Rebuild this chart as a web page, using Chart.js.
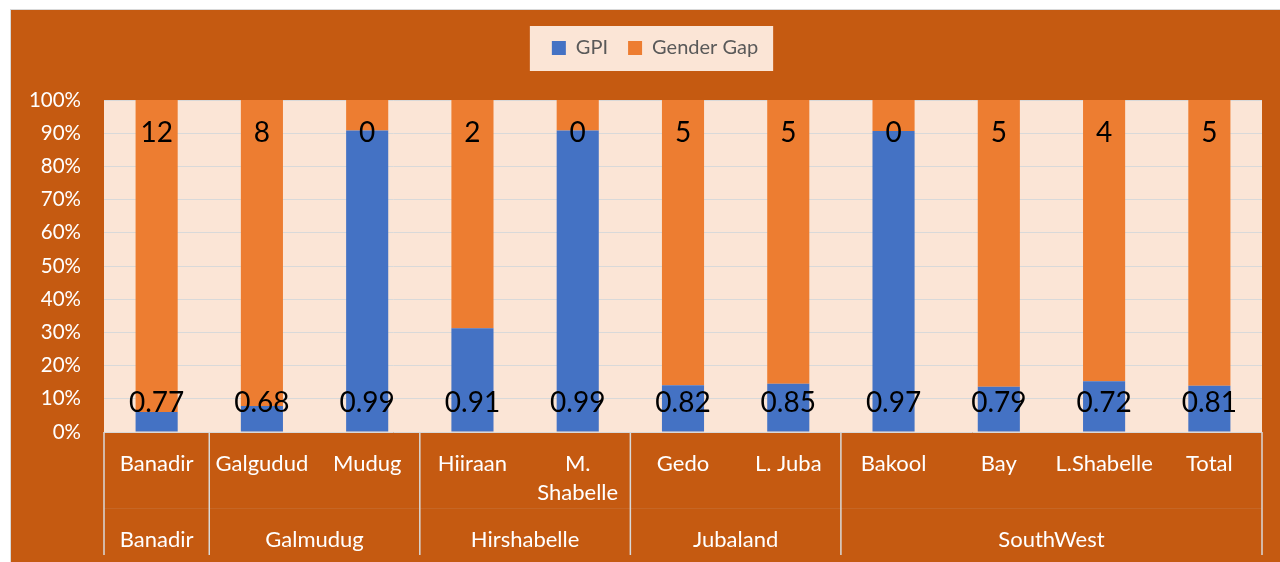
<!DOCTYPE html>
<html>
<head>
<meta charset="utf-8">
<script src="https://cdn.jsdelivr.net/npm/chart.js@4"></script>
<style>
body { margin: 0; background: #fff; }
#box { position: absolute; left: 10px; top: 9px; width: 1269px; height: 552px;
       border-left: 1px solid #d9d9d9; border-top: 1px solid #d9d9d9; background: #C55A11; }
#chart { display: block; }
</style>
</head>
<body>
<div id="box"><canvas id="chart" width="1269" height="552"></canvas></div>
<script>
var regions = ['Banadir', 'Galgudud', 'Mudug', 'Hiiraan', ['M.', 'Shabelle'], 'Gedo', 'L. Juba', 'Bakool', 'Bay', 'L.Shabelle', 'Total'];
var states = ['Banadir', 'Galmudug', 'Hirshabelle', 'Jubaland', 'SouthWest'];
var stateSizes = [1, 2, 2, 2, 4];
var gpi = [0.77, 0.68, 0.99, 0.91, 0.99, 0.82, 0.85, 0.97, 0.79, 0.72, 0.81];
var genderGap = [12, 8, 0.1, 2, 0.1, 5, 5, 0.1, 5, 4, 5];

// 100% stacking, like the spreadsheet does it
var gpiShare = gpi.map(function (g, i) { return g / (g + genderGap[i]) * 100; });
var gapShare = gpiShare.map(function (s) { return 100 - s; });

Chart.defaults.font.family = 'Lato';

var legendShift = 13;

var decorations = {
    id: 'decorations',
    afterInit: function (chart) {
        // leave a gap between legend and plot area
        var legend = chart.legend;
        var fit = legend.fit;
        legend.fit = function () {
            fit.call(this);
            this.height += 32;
        };
    },
    afterUpdate: function (chart) {
        // legend sits a bit right of centre in the original
        var legend = chart.legend;
        legend.left += legendShift;
        legend.right += legendShift;
        legend.legendHitBoxes.forEach(function (b) { b.left += legendShift; });
    },
    beforeDraw: function (chart) {
        var ctx = chart.ctx;
        var a = chart.chartArea;
        ctx.save();
        ctx.fillStyle = '#FBE5D6';
        ctx.fillRect(a.left, a.top, a.right - a.left, a.bottom - a.top);

        var boxes = chart.legend.legendHitBoxes;
        if (boxes && boxes.length) {
            var minX = Math.min.apply(null, boxes.map(function (b) { return b.left; }));
            var maxX = Math.max.apply(null, boxes.map(function (b) { return b.left + b.width; }));
            var cy = boxes[0].top + boxes[0].height / 2;
            ctx.fillRect(minX - 22, cy - 22, maxX - minX + 37, 45);
        }
        ctx.restore();
    },
    afterDatasetsDraw: function (chart) {
        var ctx = chart.ctx;
        ctx.save();
        ctx.font = '28px Lato';
        ctx.fillStyle = '#000';
        ctx.textAlign = 'center';
        ctx.textBaseline = 'middle';
        chart.getDatasetMeta(0).data.forEach(function (bar, i) {
            ctx.fillText(gpi[i].toFixed(2), bar.x, bar.base - 29);
        });
        chart.getDatasetMeta(1).data.forEach(function (bar, i) {
            ctx.fillText(genderGap[i].toFixed(0), bar.x, bar.y + 33);
        });
        ctx.restore();
    },
    afterDraw: function (chart) {
        var ctx = chart.ctx;
        var x = chart.scales.x;
        var bottom = chart.chartArea.bottom;
        var half = (x.getPixelForValue(1) - x.getPixelForValue(0)) / 2;
        var edges = [x.getPixelForValue(0) - half];
        var idx = 0;
        ctx.save();
        ctx.font = '22px Lato';
        ctx.fillStyle = '#fff';
        ctx.textAlign = 'center';
        ctx.textBaseline = 'middle';
        stateSizes.forEach(function (n, k) {
            var start = edges[edges.length - 1];
            idx += n;
            var end = x.getPixelForValue(idx - 1) + half;
            edges.push(end);
            ctx.fillText(states[k], (start + end) / 2, bottom + 108);
        });

        ctx.strokeStyle = 'rgba(217,217,217,0.1)';
        ctx.lineWidth = 1;
        ctx.beginPath();
        ctx.moveTo(edges[0], bottom + 76.5);
        ctx.lineTo(edges[edges.length - 1], bottom + 76.5);
        ctx.stroke();

        ctx.strokeStyle = '#D9D9D9';
        ctx.lineWidth = 1.5;
        edges.forEach(function (e) {
            ctx.beginPath();
            ctx.moveTo(e, bottom);
            ctx.lineTo(e, bottom + 123);
            ctx.stroke();
        });
        ctx.restore();
    }
};

new Chart(document.getElementById('chart'), {
    type: 'bar',
    data: {
        labels: regions,
        datasets: [
            { label: 'GPI', data: gpiShare, backgroundColor: '#4472C4', borderColor: '#4472C4', borderWidth: 0 },
            { label: 'Gender Gap', data: gapShare, backgroundColor: '#ED7D31', borderColor: '#ED7D31', borderWidth: 0 }
        ]
    },
    options: {
        responsive: false,
        animation: false,
        layout: { padding: { left: 11, right: 18, top: 8, bottom: 0 } },
        datasets: { bar: { barPercentage: 0.4, categoryPercentage: 1 } },
        plugins: {
            tooltip: { enabled: false },
            legend: {
                position: 'top',
                labels: { boxWidth: 14, boxHeight: 14, padding: 20, color: '#595959', font: { size: 20 } }
            }
        },
        scales: {
            x: {
                stacked: true,
                grid: { display: false, drawTicks: false },
                border: { display: false },
                ticks: { color: '#fff', font: { size: 22, lineHeight: 1.32 }, padding: 17, maxRotation: 0, autoSkip: false },
                afterFit: function (s) { s.height = 130; }
            },
            y: {
                stacked: true,
                min: 0,
                max: 100,
                grid: { color: '#D9D9D9', drawTicks: false },
                border: { display: false },
                ticks: {
                    stepSize: 10, color: '#fff', font: { size: 20.5 }, padding: 23,
                    callback: function (v) { return v + '%'; }
                },
                afterFit: function (s) { s.width = 82; }
            }
        }
    },
    plugins: [decorations]
});
</script>
</body>
</html>
